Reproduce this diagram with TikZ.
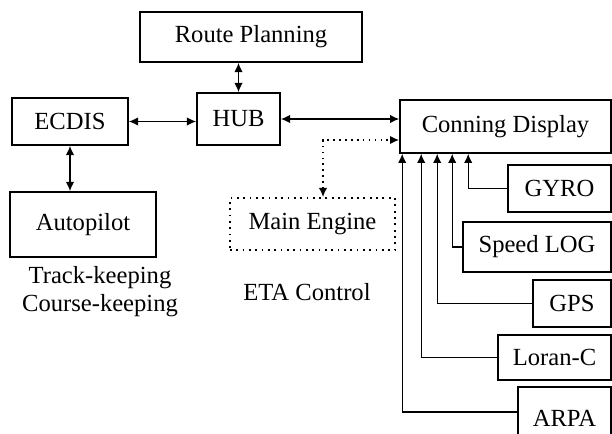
\documentclass[tikz,border=0pt]{standalone}
\usepackage{fontspec}
\setmainfont{Liberation Serif}
\usetikzlibrary{calc,arrows.meta}

\tikzset{
  box/.style={draw, line width=1.3pt, inner sep=0pt, font=\fontsize{17.5}{21}\selectfont},
  dotbox/.style={box, line width=1.3pt, dash pattern=on 1.3pt off 3.2pt},
  label/.style={font=\fontsize{17.5}{20}\selectfont, align=center},
  link/.style={line width=0.9pt, >={Latex[length=6.5pt,width=6pt]}},
}

\begin{document}
\begin{tikzpicture}[x=0.025cm,y=-0.025cm]
\useasboundingbox (0,0) rectangle (612,434);
\clip (0,0) rectangle (612,434);

    % bridge side
    \node[box, minimum width=5.55cm, minimum height=1.25cm] (route) at (251,37) {Route Planning};
    \node[box, minimum width=2.075cm, minimum height=1.3cm] (hub) at (238.5,119) {HUB};
    \node[box, minimum width=2.9cm, minimum height=1.175cm] (ecdis) at (70,121.5) {ECDIS};
    \node[box, minimum width=3.65cm, minimum height=1.625cm] (autopilot) at (83,224.5) {Autopilot};
    \node[dotbox, minimum width=4.125cm, minimum height=1.3cm] (engine) at (312.5,224) {Main Engine};
    \node[label] (keeping) at (100,292) {Track-keeping\\Course-keeping};
    \node[label] (eta) at (307,292) {ETA Control};

    % display and its sensors
    \node[box, line width=1.1pt, minimum width=5.275cm, minimum height=1.325cm] (conning) at (505.5,126.5) {Conning Display};
    \node[box, minimum width=2.575cm, minimum height=1.175cm] (gyro) at (559.5,188.5) {GYRO};
    \node[box, minimum width=3.7cm, minimum height=1.25cm] (speedlog) at (537,247) {Speed LOG};
    \node[box, minimum width=1.95cm, minimum height=1.175cm] (gps) at (572,303.5) {GPS};
    \node[box, minimum width=2.825cm, minimum height=1.125cm] (loran) at (554.5,357.5) {Loran-C};
    \node[box, minimum width=2.325cm, minimum height=1.55cm] (arpa) at (564.5,418) {ARPA};

    \draw[link, <->] (route.south -| hub.north) -- (hub.north);
    \draw[link, <->] (ecdis.east) -- (ecdis.east -| hub.west);
    \draw[link, <->] (ecdis.south) -- (ecdis.south |- autopilot.north);
    \draw[link, <->] (hub.east) -- (hub.east -| conning.west);

    \coordinate (split) at (323,140);
    \draw[link, line width=1.2pt, dash pattern=on 1.2pt off 3pt, <->] (engine.north -| split) |- (conning.west |- split);

    \draw[link, ->] (gyro.west) -| ($(conning.south west)+(69,0)$);
    \draw[link, ->] (speedlog.west) -| ($(conning.south west)+(53,0)$);
    \draw[link, ->] (gps.west) -| ($(conning.south west)+(38,0)$);
    \draw[link, ->] (loran.west) -| ($(conning.south west)+(22,0)$);
    \draw[link, ->] ($(arpa.west)+(0,-6)$) -| ($(conning.south west)+(3,0)$);
\end{tikzpicture}
\end{document}
